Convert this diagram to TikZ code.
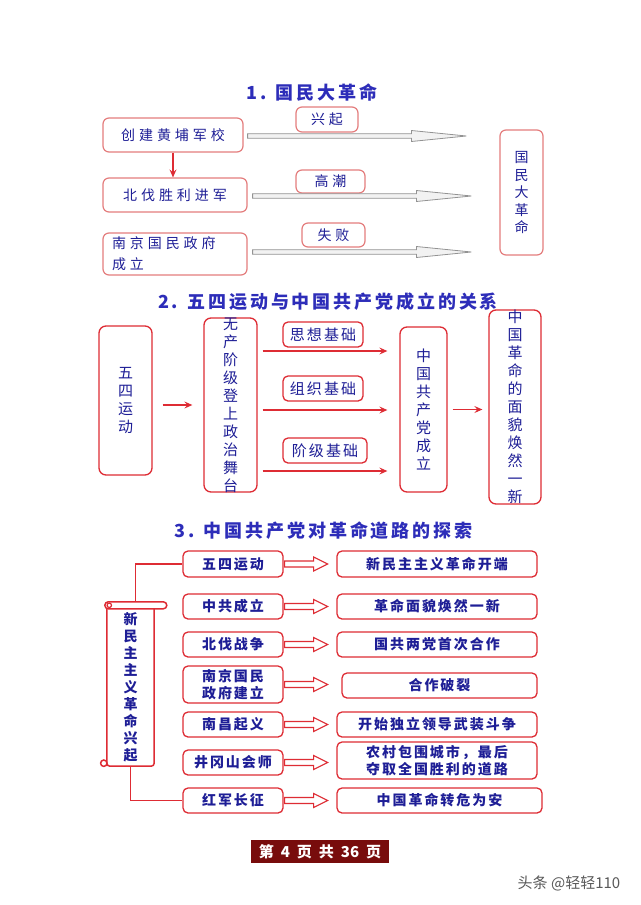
\documentclass[tikz,border=0pt]{standalone}
\usepackage{fontspec}
\usetikzlibrary{calc,arrows.meta}
\newfontfamily\cjk[LetterSpace=14]{Noto Sans CJK SC}
\newfontfamily\cjkw[LetterSpace=28]{Noto Sans CJK SC}
\newfontfamily\cjkt[LetterSpace=16]{Noto Sans CJK SC}
\newfontfamily\cjkv{Noto Sans CJK SC}
\definecolor{bred}{RGB}{222,44,52}
\definecolor{pinkred}{RGB}{228,125,125}
\definecolor{tblue}{RGB}{30,30,150}
\definecolor{ttblue}{RGB}{45,45,185}
\definecolor{fred}{RGB}{120,12,12}
\newcommand\hollowarr[6]{%
  \path[#1] let \p1=(#2), \p2=(#3) in
    (\x1,\y1+#4pt) -- (\x2-#6pt,\y1+#4pt) -- (\x2-#6pt,\y1+#5pt) -- (\x2,\y1)
    -- (\x2-#6pt,\y1-#5pt) -- (\x2-#6pt,\y1-#4pt) -- (\x1,\y1-#4pt) -- cycle;}
\tikzset{
  box1/.style={draw=pinkred, line width=1.2pt, rounded corners=6pt, fill=white,
    text=tblue, font=\cjkw\fontsize{14}{21}\selectfont, inner sep=0pt},
  vbox/.style={draw=bred, line width=1.3pt, rounded corners=7pt, inner sep=0pt},
  vtxt/.style={text=tblue, align=center, font=\cjkv\fontsize{15}{18}\selectfont, inner sep=0pt},
  lab2/.style={draw=bred, line width=1.3pt, rounded corners=5pt, inner sep=0pt,
    text=tblue, font=\cjk\fontsize{15}{18}\selectfont},
  box3/.style={draw=bred, line width=1.3pt, rounded corners=5pt, inner sep=0pt,
    text=tblue, align=center, font=\cjk\bfseries\fontsize{14}{16.5}\selectfont},
  ttl/.style={text=ttblue, font=\cjkt\bfseries\fontsize{18}{20}\selectfont, inner sep=0pt},
  redarr/.style={draw=bred, line width=1.1pt, -{Stealth[length=8pt,width=7pt,inset=3pt]}},
  redline/.style={draw=bred, line width=1.5pt},
  grayarr/.style={draw=gray!85, fill=gray!10, line width=0.8pt},
  dblarr/.style={draw=bred, fill=white, line width=1.1pt},
}
\begin{document}
\begin{tikzpicture}[x=1pt,y=-1pt]
\useasboundingbox[fill=white] (0,0) rectangle (640,905);

% ---------- Section 1 ----------
\node[ttl] (t1) at (312,93) {1. 国民大革命};
\node[box1, minimum width=140pt, minimum height=34pt] (b1) at (173,135) {创建黄埔军校};
\node[box1, minimum width=144pt, minimum height=34pt] (b2) at (175,195) {北伐胜利进军};
\node[box1, minimum width=144pt, minimum height=42pt, text width=126pt, align=left] (b3) at (175,254) {南京国民政府\\成立};
\node[box1, minimum width=62pt, minimum height=25pt] (l1) at (327,119.5) {兴起};
\node[box1, minimum width=69pt, minimum height=23pt] (l2) at (330.5,181.5) {高潮};
\node[box1, minimum width=63pt, minimum height=24pt] (l3) at (333.5,235) {失败};
\node[box1, minimum width=43pt, minimum height=125pt, align=center,
  font=\cjkv\fontsize{14}{17.5}\selectfont] (big) at (521.5,192.5) {国\\民\\大\\革\\命};
\hollowarr{grayarr}{$(b1.east)+(4,1)$}{$(b1.east -| big.west)+(-33,0)$}{2.2}{5.5}{55}
\hollowarr{grayarr}{$(b2.east)+(5,1)$}{$(b2.east -| big.west)+(-28,0)$}{2.2}{5.5}{55}
\hollowarr{grayarr}{$(b3.east)+(5,-2)$}{$(b3.east -| big.west)+(-28,0)$}{2.2}{5.5}{55}
\draw[redarr] (b1.south) -- (b1.south |- b2.north);

% ---------- Section 2 ----------
\node[ttl] (t2) at (328,302) {2. 五四运动与中国共产党成立的关系};
\node[vbox, minimum width=53pt, minimum height=149pt] (ws) at (125.5,400.5) {};
\node[vtxt] (wst) at (ws.center) {五\\四\\运\\动};
\node[vbox, minimum width=53pt, minimum height=174pt] (wc) at (230.5,405) {};
\node[vtxt] (wct) at (wc.center) {无\\产\\阶\\级\\登\\上\\政\\治\\舞\\台};
\node[lab2, minimum width=80pt, minimum height=25pt] (s1) at (323,334.5) {思想基础};
\node[lab2, minimum width=80pt, minimum height=25pt] (s2) at (323,388.5) {组织基础};
\node[lab2, minimum width=84pt, minimum height=25pt] (s3) at (325,450.5) {阶级基础};
\node[vbox, minimum width=47pt, minimum height=165pt] (cpc) at (423.5,409.5) {};
\node[vtxt] (cpct) at (cpc.center) {中\\国\\共\\产\\党\\成\\立};
\node[vbox, minimum width=52pt, minimum height=194pt] (nb) at (515,407) {};
\node[vtxt] (nbt) at (nb.center) {中\\国\\革\\命\\的\\面\\貌\\焕\\然\\一\\新};
\draw[redarr, shorten <=10pt, shorten >=11pt] (wc.west -| ws.east) -- (wc.west);
\coordinate (a1) at ([yshift=54pt]wc.east);
\coordinate (a2) at ([yshift=-5pt]wc.east);
\coordinate (a3) at ([yshift=-66pt]wc.east);
\draw[redarr, shorten <=5pt, shorten >=12pt] (a1) -- (a1 -| cpc.west);
\draw[redarr, shorten <=5pt, shorten >=12pt] (a2) -- (a2 -| cpc.west);
\draw[redarr, shorten <=5pt, shorten >=12pt] (a3) -- (a3 -| cpc.west);
\draw[redarr, shorten <=5pt, shorten >=6pt] (cpc.east) -- (cpc.east -| nb.west);

% ---------- Section 3 ----------
\node[ttl] (t3) at (323.5,531) {3. 中国共产党对革命道路的探索};
\node[box3, minimum width=100pt, minimum height=26pt] (p1) at (233,564) {五四运动};
\node[box3, minimum width=100pt, minimum height=25pt] (p2) at (233,606.5) {中共成立};
\node[box3, minimum width=100pt, minimum height=25pt] (p3) at (233,644.5) {北伐战争};
\node[box3, minimum width=100pt, minimum height=37pt] (p4) at (233,684.5) {南京国民\\政府建立};
\node[box3, minimum width=100pt, minimum height=25pt] (p5) at (233,724.5) {南昌起义};
\node[box3, minimum width=100pt, minimum height=25pt] (p6) at (233,762.5) {井冈山会师};
\node[box3, minimum width=100pt, minimum height=25pt] (p7) at (233,800.5) {红军长征};
\node[box3, minimum width=200pt, minimum height=26pt] (q1) at (437,564) {新民主主义革命开端};
\node[box3, minimum width=200pt, minimum height=25pt] (q2) at (437,606.5) {革命面貌焕然一新};
\node[box3, minimum width=200pt, minimum height=25pt] (q3) at (437,644.5) {国共两党首次合作};
\node[box3, minimum width=195pt, minimum height=25pt] (q4) at (439.5,685.5) {合作破裂};
\node[box3, minimum width=200pt, minimum height=25pt] (q5) at (437,724.5) {开始独立领导武装斗争};
\node[box3, minimum width=200pt, minimum height=37pt] (q6) at (437,760.5) {农村包围城市，最后\\夺取全国胜利的道路};
\node[box3, minimum width=205pt, minimum height=25pt] (q7) at (439.5,800.5) {中国革命转危为安};
\foreach \i in {1,...,7}{
  \hollowarr{dblarr}{$(p\i.east)+(1,0)$}{$(p\i.east)+(44,0)$}{3}{7}{14}
}
% scroll
\node[minimum width=47pt, minimum height=164pt, inner sep=0pt] (sc) at (130.5,684) {};
\node[vtxt, font=\cjkv\bfseries\fontsize{14}{17}\selectfont] (sct) at (130.5,687.5) {新\\民\\主\\主\\义\\革\\命\\兴\\起};
\draw[redline, rounded corners=3pt] ($(sc.north west)+(0,7)$) -- (sc.south west) -- (sc.south east) -- ($(sc.north east)+(0,7)$);
\draw[redline, fill=white, rounded corners=3.5pt] ($(sc.north west)+(-2,0)$) rectangle ++(62,7);
\draw[redline, line width=1.2pt] ($(sc.north west)+(2.5,3.5)$) circle[radius=2.2pt];
\draw[redline, fill=white] ($(sc.south west)+(-3,-3)$) circle[radius=3.2pt];
\draw[redline] ([xshift=5pt]sc.north) |- (p1.west);
\draw[redline] (sc.south) |- (p7.west);

% ---------- Footer ----------
\node[fill=fred, minimum width=138pt, minimum height=23pt, inner sep=0pt, text=white,
  font=\cjkv\bfseries\fontsize{15}{16}\selectfont] (pg) at (320,851.5)
  {第\hspace{7pt}4\hspace{7pt}页\hspace{7pt}共\hspace{7pt}36\hspace{7pt}页};
\node[text=gray!70!black, inner sep=0pt, font=\cjkv\fontsize{15}{17}\selectfont] (wm) at (569,883) {头条 @轻轻110};
\end{tikzpicture}
\end{document}
